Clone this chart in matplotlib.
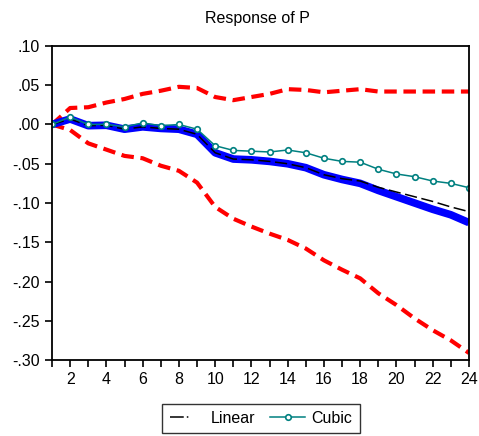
import numpy as np
import matplotlib
matplotlib.use("Agg")
import matplotlib.pyplot as plt
from matplotlib.lines import Line2D

plt.rcParams['font.family'] = ['Liberation Sans', 'DejaVu Sans']

periods = np.arange(1, 25)
response = [0.0, 0.007, -0.0015, -0.001, -0.006, -0.003, -0.005, -0.006, -0.0125, -0.036,
            -0.044, -0.045, -0.047, -0.050, -0.055, -0.064, -0.070, -0.075, -0.084, -0.092,
            -0.100, -0.108, -0.115, -0.125]
upper = [0.0, 0.021, 0.022, 0.028, 0.0325, 0.039, 0.043, 0.048, 0.0465, 0.035,
         0.031, 0.035, 0.039, 0.045, 0.044, 0.041, 0.043, 0.045, 0.042, 0.042,
         0.042, 0.042, 0.042, 0.042]
lower = [0.0, -0.007, -0.024, -0.032, -0.040, -0.043, -0.0525, -0.059, -0.074, -0.105,
         -0.120, -0.130, -0.139, -0.147, -0.158, -0.173, -0.185, -0.196, -0.215, -0.230,
         -0.247, -0.262, -0.275, -0.291]
linear = [0.0, 0.007, -0.0015, -0.001, -0.006, -0.003, -0.005, -0.006, -0.0125, -0.036,
          -0.044, -0.045, -0.047, -0.050, -0.055, -0.064, -0.069, -0.072, -0.080, -0.086,
          -0.092, -0.098, -0.105, -0.111]
cubic = [0.0, 0.0096, 0.0, 0.0003, -0.003, 0.002, -0.0015, 0.0, -0.006, -0.027,
         -0.033, -0.034, -0.035, -0.0325, -0.036, -0.043, -0.047, -0.048, -0.057, -0.063,
         -0.0665, -0.072, -0.075, -0.0805]
yticks = [-0.30, -0.25, -0.20, -0.15, -0.10, -0.05, 0.0, 0.05, 0.10]
ylabels = ['-.30', '-.25', '-.20', '-.15', '-.10', '-.05', '.00', '.05', '.10']

fig = plt.figure(figsize=(4.79, 4.36), dpi=100)
ax = fig.add_axes([0.1086, 0.1743, 0.8704, 0.7202])

ax.plot(periods, upper, color='red', lw=3, dashes=(3, 1.6))
ax.plot(periods, lower, color='red', lw=3, dashes=(3, 1.6))
ax.plot(periods, response, color='#0000ff', lw=5.5, solid_capstyle='butt')
ax.plot(periods, linear, color='black', lw=1.1, dashes=(8, 3))
l2, = ax.plot(periods, cubic, color='#008080', lw=1.1, marker='o',
              ms=4, mfc='white', mec='#008080', mew=1.2)

ax.set_xlim(1, 24)
ax.set_ylim(-0.30, 0.10)
ax.set_xticks(periods, minor=True)
ax.set_xticks(np.arange(2, 25, 2))
ax.set_yticks(yticks)
ax.set_yticklabels(ylabels)
ax.tick_params(axis='both', direction='out', labelsize=11.5, width=1.2, length=5)
ax.tick_params(axis='x', which='minor', direction='out', width=1.2, length=5)
for s in ax.spines.values():
    s.set_linewidth(1.3)

fig.text(0.537, 0.958, 'Response of P', ha='center', va='center', fontsize=11.5)

h1 = Line2D([], [], color='black', lw=1.1, dashes=(9, 2, 1, 100))
leg = fig.legend([h1, l2], ['Linear', 'Cubic'], loc='center', bbox_to_anchor=(0.545, 0.040),
                 ncol=2, fontsize=11.5, frameon=True, fancybox=False, edgecolor='black',
                 handlelength=2.2, handletextpad=0.4, columnspacing=0.9, borderpad=0.45)
leg.get_frame().set_linewidth(1.0)

fig.savefig('out.png', dpi=100)
